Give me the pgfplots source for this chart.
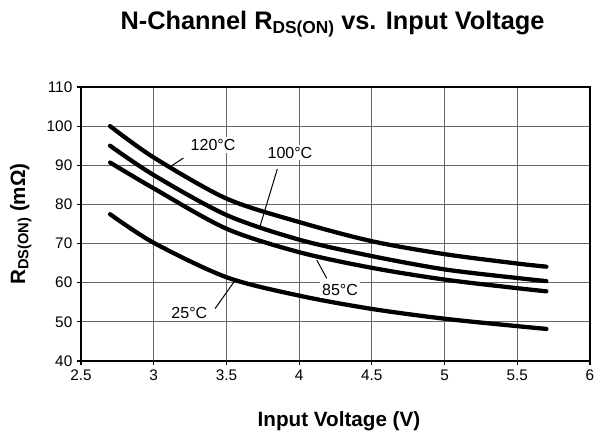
\documentclass[border=0pt]{standalone}
\usepackage{fontspec}
\setmainfont{Liberation Sans}
\usepackage{pgfplots}
\pgfplotsset{compat=1.18}
\begin{document}
\begin{tikzpicture}
\path[use as bounding box] (0,0) rectangle (447pt,325.5pt);
\begin{axis}[
  name=ax, at={(60.75pt,54.75pt)}, anchor=south west,
  scale only axis, width=381.75pt, height=205.5pt,
  xmin=2.5, xmax=6, ymin=40, ymax=110,
  xtick={2.5,3,3.5,4,4.5,5,5.5,6}, ytick={40,50,60,70,80,90,100,110},
  /pgf/number format/assume math mode=true,
  ticklabel style={font=\fontsize{11.5}{13}\selectfont},
  xmajorgrids=true, ymajorgrids=true,
  major grid style={draw=black!60, line width=0.75pt},
  axis line style={black, line width=1pt},
  xtick pos=bottom, ytick pos=left, tick align=outside, major tick length=3pt,
  major tick style={black, line width=0.8pt},
  curve/.style={black, line width=3.2pt, no marks, smooth, line cap=round},
]
\addplot[curve] coordinates {(2.7,100) (3,92.0) (3.5,81.5) (4,75.5) (4.5,70.6) (5,67.3) (5.5,64.9) (5.7,64.1)};
\addplot[curve] coordinates {(2.7,95) (3,87.5) (3.5,77.3) (4,71.0) (4.5,66.8) (5,63.4) (5.5,61.2) (5.7,60.4)};
\addplot[curve] coordinates {(2.7,90.7) (3,84.1) (3.5,73.8) (4,67.8) (4.5,63.8) (5,60.8) (5.5,58.6) (5.7,57.8)};
\addplot[curve] coordinates {(2.7,77.5) (3,70.2) (3.5,61.4) (4,56.7) (4.5,53.3) (5,50.8) (5.5,48.9) (5.7,48.2)};
\draw[black, line width=0.75pt] (axis cs:3.204,91.86) -- (axis cs:3.100,89.3);
\draw[black, line width=0.75pt] (axis cs:3.850,89.05) -- (axis cs:3.731,74.4);
\draw[black, line width=0.75pt] (axis cs:4.190,61.1) -- (axis cs:4.121,65.8);
\draw[black, line width=0.75pt] (axis cs:3.422,53.4) -- (axis cs:3.554,60.3);
\tikzset{clab/.style={fill=white, inner sep=1.5pt, font=\fontsize{12}{13}\selectfont}}
\node[clab] at (axis cs:3.408,95.2) {120°C};
\node[clab] at (axis cs:3.937,93.2) {100°C};
\node[clab] at (axis cs:4.281,58.1) {85°C};
\node[clab] at (axis cs:3.245,52.3) {25°C};
\end{axis}
\node[anchor=base, font=\bfseries\fontsize{19}{22}\selectfont] at ([xshift=-2.25pt,yshift=43.3pt]ax.north)
  {N-Channel R\raisebox{-3pt}{\fontsize{13}{13}\selectfont DS(ON)} vs. Input Voltage};
\node[anchor=base, font=\bfseries\fontsize{15.5}{18}\selectfont] at ([xshift=2.6pt,yshift=-49.3pt]ax.south)
  {Input Voltage (V)};
\node[rotate=90, anchor=base, font=\bfseries\fontsize{15.5}{18}\selectfont] at ([xshift=-42pt]ax.west)
  {R\raisebox{-2.5pt}{\fontsize{11}{11}\selectfont DS(ON)} (mΩ)};
\end{tikzpicture}
\end{document}
